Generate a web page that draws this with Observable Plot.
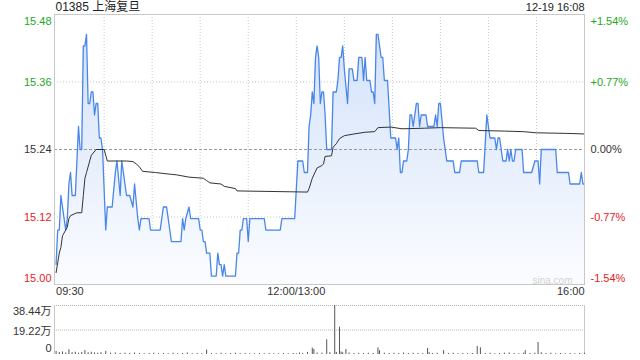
<!DOCTYPE html>
<html><head><meta charset="utf-8">
<script src="https://cdn.jsdelivr.net/npm/d3@7"></script>
<script src="https://cdn.jsdelivr.net/npm/@observablehq/plot@0.6"></script>
<style>
html,body{margin:0;padding:0;background:#fff;}
#wrap{position:relative;width:640px;height:360px;overflow:hidden;font-family:"Liberation Sans","Noto Sans CJK SC",Arial,sans-serif;}
#main{position:absolute;left:0;top:0;}
#vol{position:absolute;left:0;top:300px;}
</style></head><body><div id="wrap"><div id="main"></div><div id="vol"></div></div>
<script>
// ---- data ----
const title = "01385 上海复旦";
const stamp = "12-19 16:08";
const watermark = "sina.com";
const prevClose = 15.24;
const pctTicks = [1.54, 0.77, 0, -0.77, -1.54];
const priceTickLabels = ["15.48", "15.36", "15.24", "15.12", "15.00"];
const pctTickLabels = ["+1.54%", "+0.77%", "0.00%", "-0.77%", "-1.54%"];
const timeGrid = [30, 60, 90, 120, 150, 180, 210, 240, 270, 300];
const timeTickMinutes = [0, 150, 330];
const timeTickLabels = ["09:30", "12:00/13:00", "16:00"];
// [trading minute since 09:30 (lunch removed), price]
const pricePoints = [
[0,15.04],[1,15.10],[2,15.10],[3,15.16],[4,15.14],[6,15.10],[7,15.12],[8,15.18],[9,15.20],[10,15.16],
[12,15.16],[14,15.28],[15,15.24],[16,15.24],[17,15.42],[18,15.42],[19,15.44],[20,15.32],[21,15.32],[22,15.34],
[23,15.34],[24,15.30],[25,15.32],[26,15.32],[27,15.26],[28,15.26],[29,15.24],[31,15.10],[32,15.14],[35,15.14],
[37,15.20],[38,15.22],[40,15.16],[41,15.22],[42,15.20],[43,15.18],[44,15.16],[46,15.16],[48,15.14],[49,15.18],
[51,15.12],[52,15.10],[53,15.12],[58,15.12],[59,15.10],[65,15.10],[67,15.14],[69,15.14],[72,15.08],[78,15.08],
[79,15.12],[80,15.10],[81,15.12],[83,15.14],[84,15.12],[89,15.12],[90,15.10],[91,15.10],[92,15.08],[93,15.08],
[94,15.06],[96,15.06],[97,15.02],[100,15.02],[101,15.06],[102,15.04],[103,15.04],[104,15.02],[105,15.04],[106,15.02],
[112,15.02],[113,15.06],[114,15.06],[115,15.10],[116,15.10],[117,15.12],[119,15.12],[120,15.08],[121,15.12],[130,15.12],
[131,15.10],[140,15.10],[141,15.12],[149,15.12],[151,15.22],[154,15.22],[155,15.20],[157,15.20],[158,15.28],[159,15.30],
[160,15.34],[161,15.32],[162,15.40],[163,15.42],[164,15.40],[165,15.32],[166,15.34],[167,15.34],[168,15.30],[169,15.24],
[172,15.24],[173,15.34],[175,15.34],[176,15.36],[177,15.40],[178,15.40],[179,15.42],[180,15.38],[182,15.32],[183,15.38],
[185,15.38],[186,15.36],[188,15.36],[189,15.40],[191,15.40],[192,15.36],[193,15.40],[194,15.36],[196,15.36],[197,15.34],
[198,15.34],[199,15.32],[200,15.44],[201,15.44],[203,15.40],[204,15.40],[205,15.36],[207,15.36],[209,15.26],[212,15.26],
[213,15.24],[214,15.26],[215,15.20],[216,15.20],[217,15.22],[219,15.22],[220,15.24],[221,15.30],[222,15.30],[223,15.28],
[225,15.32],[226,15.32],[227,15.28],[228,15.30],[231,15.30],[232,15.28],[236,15.28],[237,15.30],[238,15.28],[239,15.32],
[240,15.32],[242,15.26],[243,15.24],[244,15.22],[248,15.22],[249,15.20],[252,15.20],[253,15.22],[263,15.22],[264,15.20],
[267,15.20],[269,15.30],[270,15.28],[271,15.26],[274,15.26],[275,15.24],[276,15.26],[277,15.26],[278,15.24],[279,15.22],
[281,15.22],[282,15.24],[283,15.22],[284,15.24],[285,15.22],[286,15.22],[287,15.24],[291,15.24],[292,15.20],[297,15.20],
[299,15.22],[301,15.22],[302,15.18],[303,15.24],[312,15.24],[313,15.20],[320,15.20],[321,15.18],[327,15.18],[328,15.20],
[329,15.18],[330,15.18]
];
// average price line
const avgPoints = [
[0,15.026],[2,15.06],[3,15.07],[4,15.09],[6,15.10],[7,15.105],[8,15.12],[9,15.125],[13,15.13],[16,15.13],
[17,15.16],[18,15.19],[19,15.20],[21,15.22],[22,15.23],[25,15.24],[30,15.24],[32,15.22],[44,15.22],[48,15.219],
[50,15.215],[52,15.21],[54,15.202],[62,15.200],[68,15.198],[75,15.196],[83,15.192],[92,15.19],[94,15.186],[96,15.182],
[103,15.180],[105,15.176],[112,15.172],[113,15.168],[157,15.166],[158,15.172],[160,15.19],[163,15.208],[166,15.212],[167,15.215],
[168,15.228],[172,15.229],[173,15.244],[175,15.25],[177,15.259],[180,15.264],[186,15.267],[193,15.27],[199,15.271],[201,15.278],
[209,15.279],[216,15.276],[230,15.277],[240,15.278],[262,15.277],[264,15.273],[280,15.272],[292,15.271],[300,15.269],[319,15.268],
[330,15.267]
];
// volume, 万 shares
const volPoints = [
[0,2.4],[2,1.6],[4,2.0],[6,1.2],[8,3.7],[10,1.4],[12,1.8],[14,1.0],[16,1.6],[18,3.1],[20,1.4],[22,1.8],[24,1.2],[26,1.0],[28,1.4],
[31,2.4],[34,1.0],[37,1.2],[40,0.8],[43,1.0],[46,0.8],[49,1.2],[52,0.8],[55,0.6],[58,0.8],[61,1.0],[64,0.6],[67,0.8],[70,0.6],
[73,1.0],[76,0.6],[79,0.8],[82,1.2],[85,0.6],[88,0.8],[91,0.6],[94,3.5],[97,0.8],[100,0.6],[103,1.0],[106,0.6],[109,0.8],
[112,1.0],[115,0.6],[118,0.8],[121,0.6],[124,0.6],[127,0.8],[130,0.6],[133,0.8],[136,0.6],[139,0.6],[142,0.8],[145,0.6],
[148,0.8],[150,0.6],[152,1.2],[154,0.8],[157,1.6],[160,5.0],[161,4.0],[163,1.2],[166,1.0],[169,11.5],[171,1.4],[174,38.44],
[175,1.6],[177,21.4],[178,2.0],[179,1.4],[181,3.9],[183,1.2],[186,0.8],[189,1.0],[192,0.8],[195,1.0],[198,0.8],[201,5.2],
[202,3.0],[205,1.0],[208,0.8],[211,1.0],[214,0.8],[217,1.2],[220,0.8],[223,1.0],[226,0.8],[229,0.6],[232,4.7],[233,1.4],
[235,0.8],[238,1.0],[242,3.0],[245,0.8],[248,1.0],[251,0.6],[254,0.8],[257,0.6],[260,0.8],[263,6.3],[265,5.2],[268,0.8],
[271,1.0],[274,0.6],[277,0.8],[280,1.0],[283,1.2],[286,0.8],[289,0.6],[292,1.0],[293,3.0],[296,0.8],[299,1.0],[301,9.4],
[303,1.4],[306,0.8],[309,1.0],[312,0.6],[315,0.8],[318,0.6],[321,0.8],[324,0.6],[327,0.8],[330,1.0]
];
const volTickValues = [38.44, 19.22, 0];
const volTickLabels = ["38.44万", "19.22万", "0"];

// ---- chart ----
const GREEN = "#1ea71e", RED = "#e8211f", DARK = "#333";
const FONT = '"Liberation Sans","Noto Sans CJK SC",Arial,sans-serif';
const yMin = prevClose * (1 - 0.0154), yMax = prevClose * (1 + 0.0154);
const ticks = pctTicks.map((p, i) => ({
  y: prevClose * (1 + p / 100),
  label: priceTickLabels[i], pct: pctTickLabels[i],
  color: p > 0 ? GREEN : p < 0 ? RED : DARK,
  pos: i === 0 ? "top" : i === pctTicks.length - 1 ? "bottom" : "middle"
}));
const price = pricePoints.map(([m, v]) => ({m, v}));
const avg = avgPoints.map(([m, v]) => ({m, v}));
const vol = volPoints.map(([m, v]) => ({m, v}));
const xTicks = timeTickMinutes.map((m, i) => ({m, label: timeTickLabels[i]}));

function tickLabels(pos, dy) {
  const d = ticks.filter(t => t.pos === pos);
  return [
    Plot.text(d, {y: "y", text: "label", fill: "color", frameAnchor: "left", textAnchor: "end", lineAnchor: "middle", dx: -3, dy, fontSize: 11}),
    Plot.text(d, {y: "y", text: "pct", fill: "color", frameAnchor: "right", textAnchor: "start", lineAnchor: "middle", dx: 6, dy, fontSize: 11})
  ];
}

const main = Plot.plot({
  width: 640, height: 300,
  marginLeft: 54, marginRight: 56, marginTop: 14, marginBottom: 16,
  x: {domain: [-1, 330], axis: null},
  y: {domain: [yMin, yMax], axis: null},
  color: {type: "identity"},
  style: {fontFamily: FONT, background: "transparent", overflow: "visible"},
  marks: [
    Plot.ruleX(timeGrid, {x: d => d, stroke: "#c8c8c8", strokeDasharray: "1,2"}),
    Plot.ruleY(ticks.filter(t => t.pos === "middle" && t.y !== prevClose), {y: "y", stroke: "#c8c8c8", strokeDasharray: "1,2"}),
    Plot.areaY(price, {x: "m", y1: () => yMin, y2: "v", fill: "url(#pgrad)"}),
    Plot.ruleY([prevClose], {stroke: "#999", strokeDasharray: "3,2"}),
    Plot.line(price, {x: "m", y: "v", stroke: "#4a86e8", strokeWidth: 1.3}),
    Plot.line(avg, {x: "m", y: "v", stroke: "#333", strokeWidth: 1}),
    Plot.frame({stroke: "#c8c8c8"}),
    ...tickLabels("top", 6.5), ...tickLabels("middle", 0), ...tickLabels("bottom", -6.5),
    Plot.text(xTicks.slice(0, 1), {x: "m", text: "label", frameAnchor: "bottom", textAnchor: "start", lineAnchor: "top", dy: 3, fontSize: 11, fill: DARK}),
    Plot.text(xTicks.slice(1, 2), {x: "m", text: "label", frameAnchor: "bottom", textAnchor: "middle", lineAnchor: "top", dy: 3, fontSize: 11, fill: DARK}),
    Plot.text(xTicks.slice(2), {x: "m", text: "label", frameAnchor: "bottom", textAnchor: "end", lineAnchor: "top", dy: 3, fontSize: 11, fill: DARK}),
    Plot.text([title], {text: d => d, frameAnchor: "top-left", textAnchor: "start", lineAnchor: "middle", dx: 1, dy: -7, fontSize: 12, fill: "#222"}),
    Plot.text([stamp], {text: d => d, frameAnchor: "top-right", textAnchor: "end", lineAnchor: "middle", dy: -7, fontSize: 11, fill: "#222"}),
    Plot.text([watermark], {text: d => d, frameAnchor: "bottom-right", textAnchor: "end", lineAnchor: "bottom", dx: -12, dy: -1, fontSize: 10, fill: "#d2d2d2"})
  ]
});
// gradient for the area
const NS = "http://www.w3.org/2000/svg";
const defs = document.createElementNS(NS, "defs");
defs.innerHTML = '<linearGradient id="pgrad" x1="0" y1="0" x2="0" y2="1">' +
  '<stop offset="0" stop-color="#d3e2fa"/><stop offset="1" stop-color="#fbfcff"/></linearGradient>';
main.insertBefore(defs, main.firstChild);
document.getElementById("main").appendChild(main);

const volChart = Plot.plot({
  width: 640, height: 60,
  marginLeft: 54, marginRight: 56, marginTop: 5, marginBottom: 6,
  x: {domain: [-1, 330], axis: null},
  y: {domain: [0, 38.44], axis: null},
  style: {fontFamily: FONT, background: "transparent", overflow: "visible"},
  marks: [
    Plot.ruleY(volTickValues.filter(v => v > 0), {y: d => d, stroke: "#b5b5b5", strokeDasharray: "1,1"}),
    Plot.ruleX([-1, 330], {x: d => d, stroke: "#c8c8c8"}),
    Plot.ruleX(vol, {x: "m", y1: () => 0, y2: "v", stroke: "#555", strokeWidth: 1}),
    Plot.text(volTickLabels.slice(0, 1), {y: () => volTickValues[0], text: d => d, frameAnchor: "left", textAnchor: "end", lineAnchor: "middle", dx: -3, dy: 6, fontSize: 11, fill: DARK}),
    Plot.text(volTickLabels.slice(1, 2), {y: () => volTickValues[1], text: d => d, frameAnchor: "left", textAnchor: "end", lineAnchor: "middle", dx: -3, dy: 1, fontSize: 11, fill: DARK}),
    Plot.text(volTickLabels.slice(2), {y: () => volTickValues[2], text: d => d, frameAnchor: "left", textAnchor: "end", lineAnchor: "middle", dx: -3, dy: -6, fontSize: 11, fill: DARK})
  ]
});
document.getElementById("vol").appendChild(volChart);
</script></body></html>
